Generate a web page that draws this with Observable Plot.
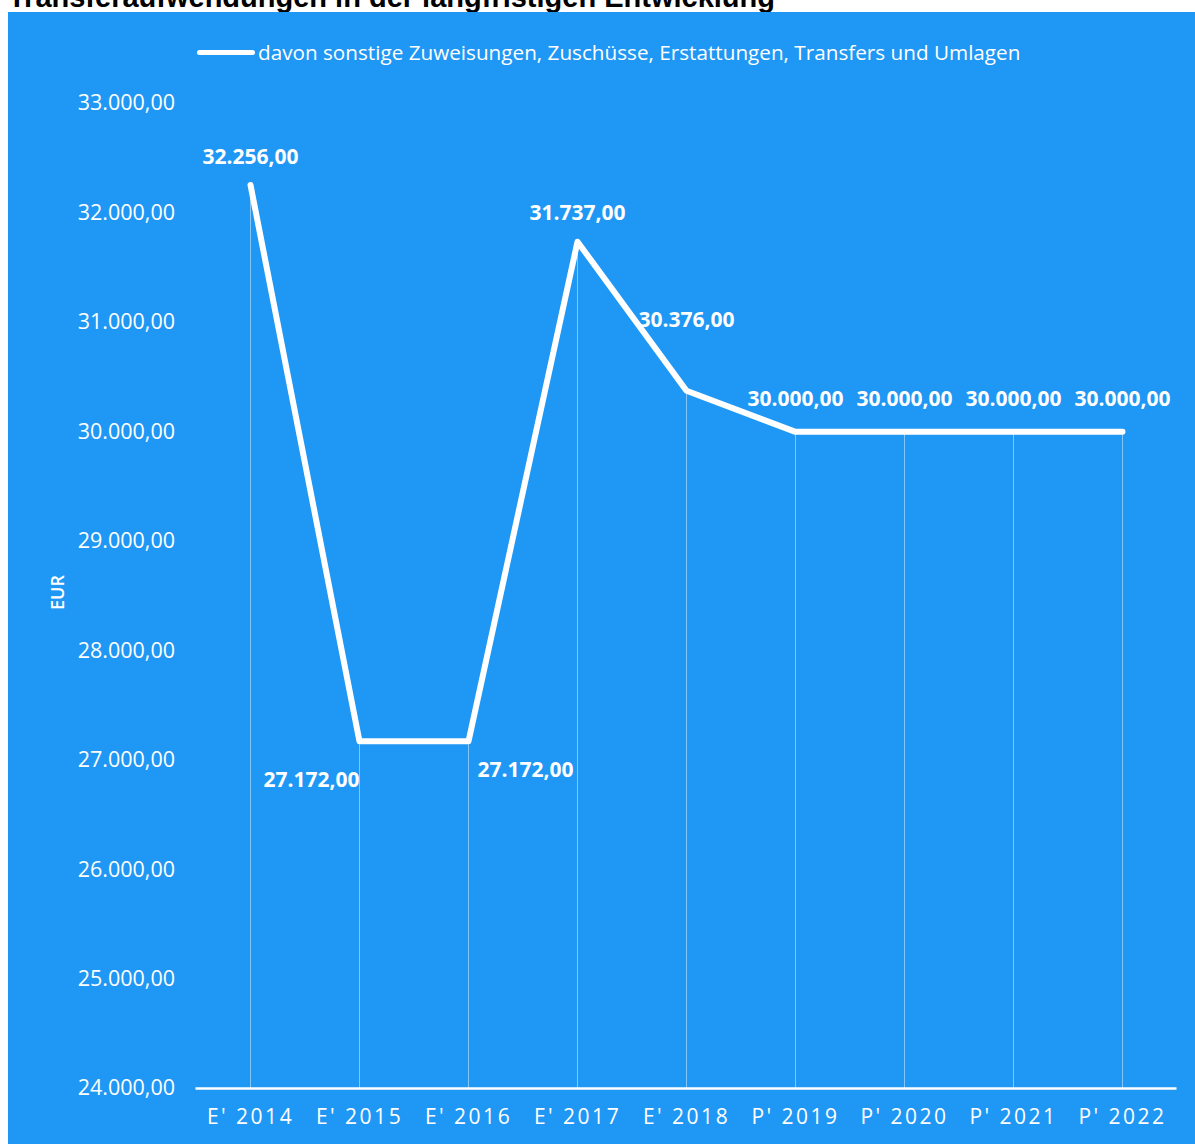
<!DOCTYPE html>
<html>
<head>
<meta charset="utf-8">
<script src="https://cdn.jsdelivr.net/npm/d3@7"></script>
<script src="https://cdn.jsdelivr.net/npm/@observablehq/plot@0.6"></script>
<style>
  html, body { margin: 0; padding: 0; background: #ffffff; width: 1195px; height: 1144px; overflow: hidden; }
  #title { position: absolute; left: 8px; top: -19px; font-family: "Liberation Sans", Arial, sans-serif; font-weight: bold; font-size: 29px; color: #000; white-space: nowrap; }
  #panel { position: absolute; left: 8px; top: 12px; width: 1187px; height: 1132px; background: #1f97f4; }
  #chart { position: absolute; left: 0; top: 0; }
  #legend { position: absolute; left: 189px; top: 26px; display: flex; align-items: center; font-family: "Open Sans", sans-serif; font-size: 20.7px; color: #fff; white-space: nowrap; }
  #legend .sw { width: 58px; height: 5px; background: #fff; border-radius: 3px; margin-right: 3px; }
</style>
</head>
<body>
<div id="title">Transferaufwendungen in der langfristigen Entwicklung</div>
<div id="panel">
  <div id="chart"></div>
  <div id="legend"><span class="sw"></span><span>davon sonstige Zuweisungen, Zuschüsse, Erstattungen, Transfers und Umlagen</span></div>
</div>
<script>
const categories = ["E' 2014", "E' 2015", "E' 2016", "E' 2017", "E' 2018", "P' 2019", "P' 2020", "P' 2021", "P' 2022"];
const values = [32256, 27172, 27172, 31737, 30376, 30000, 30000, 30000, 30000];
const yTicks = [24000, 25000, 26000, 27000, 28000, 29000, 30000, 31000, 32000, 33000];
const seriesName = "davon sonstige Zuweisungen, Zuschüsse, Erstattungen, Transfers und Umlagen";

const de = d3.formatLocale({decimal: ",", thousands: ".", grouping: [3], currency: ["", " €"]});
const fmt = de.format(",.2f");

const data = categories.map((c, i) => ({cat: c, value: values[i]}));

const labelStyle = {x: "cat", y: "value", text: d => fmt(d.value), fill: "white", fontWeight: "bold", fontSize: 21};

const chart = Plot.plot({
  width: 1187,
  height: 1132,
  marginLeft: 187.5,
  marginRight: 18.5,
  marginTop: 91,
  marginBottom: 56,
  style: {background: "transparent", color: "white", fontFamily: "'Open Sans', sans-serif"},
  x: {type: "point", domain: categories, padding: 0.5, label: null},
  y: {domain: [24000, 33000], label: null},
  marks: [
    Plot.axisY({ticks: yTicks, tickFormat: fmt, tickSize: 0, tickPadding: 21, fontSize: 21.5, label: null}),
    Plot.axisX({tickSize: 0, tickPadding: 21, fontSize: 21, label: null}),
    Plot.text(["EUR"], {text: d => d, frameAnchor: "left", dx: -138, dy: 14, rotate: -90, fill: "white", fontWeight: 600, fontSize: 18}),
    Plot.ruleX(data, {x: "cat", y1: 24000, y2: "value", stroke: "white", strokeOpacity: 0.45, strokeWidth: 1}),
    Plot.ruleY([24000], {stroke: "white", strokeWidth: 2.5}),
    Plot.line(data, {x: "cat", y: "value", stroke: "white", strokeWidth: 6, strokeLinejoin: "round", strokeLinecap: "round"}),
    Plot.text(data, {...labelStyle, filter: (d, i) => i === 0 || i === 3, dy: -28}),
    Plot.text(data, {...labelStyle, filter: (d, i) => i >= 5, dy: -33}),
    Plot.text(data, {...labelStyle, filter: (d, i) => i === 4, dy: -70}),
    Plot.text(data, {...labelStyle, filter: (d, i) => i === 1, textAnchor: "end", dx: 0, dy: 39}),
    Plot.text(data, {...labelStyle, filter: (d, i) => i === 2, textAnchor: "start", dx: 9, dy: 29})
  ]
});
document.getElementById("chart").appendChild(chart);
chart.querySelectorAll('g[aria-label="x-axis tick label"] text').forEach(t => t.setAttribute("letter-spacing", "2.5"));
</script>
</body>
</html>
